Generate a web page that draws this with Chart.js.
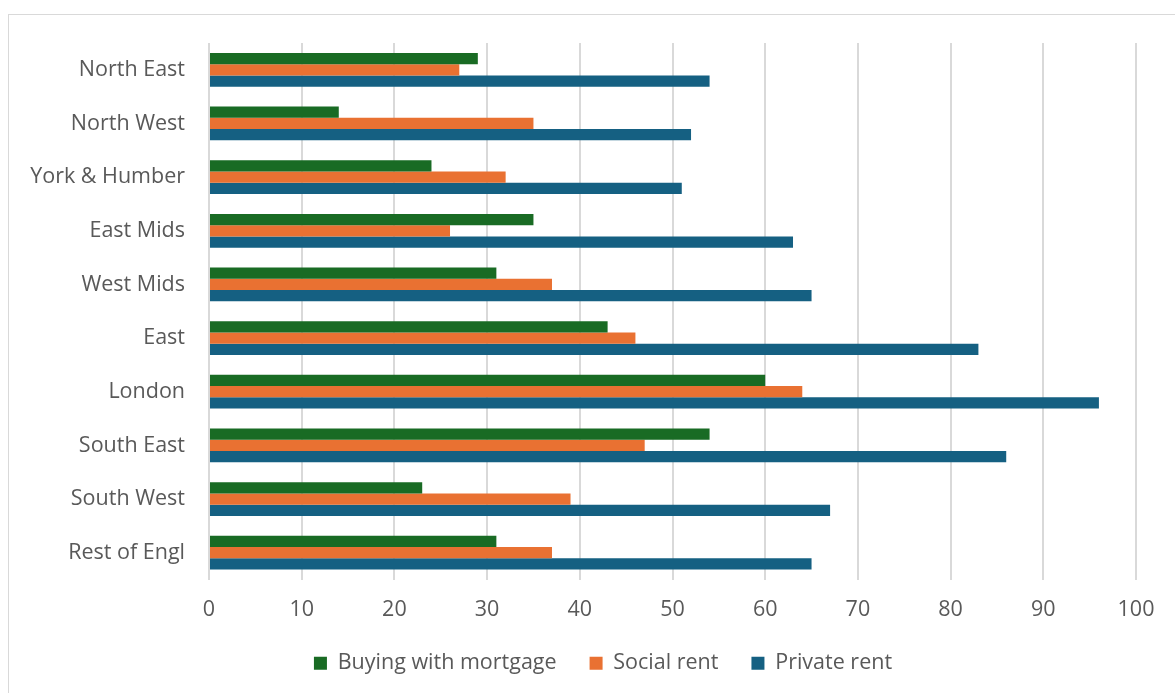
<!DOCTYPE html>
<html>
<head>
<meta charset="utf-8">
<title>Housing by region</title>
<script src="https://cdn.jsdelivr.net/npm/chart.js@4/dist/chart.umd.min.js"></script>
<style>
    html, body { margin: 0; padding: 0; background: #fff; }
    body { width: 1175px; height: 693px; position: relative; overflow: hidden; }
    #frame {
        position: absolute; left: 8px; top: 14px;
        width: 1300px; height: 800px;
        border-top: 1px solid #d9d9d9; border-left: 1px solid #d9d9d9;
    }
    #wrap { position: absolute; left: 0; top: 0; width: 1175px; height: 693px; }
</style>
</head>
<body>
<div id="frame"></div>
<div id="wrap"><canvas id="chart"></canvas></div>
<script>
// Regiones y valores por tipo de tenencia
const regions = ['North East', 'North West', 'York & Humber', 'East Mids', 'West Mids',
    'East', 'London', 'South East', 'South West', 'Rest of Engl'];
const mortgage = [29, 14, 24, 35, 31, 43, 60, 54, 23, 31];
const socialRent = [27, 35, 32, 26, 37, 46, 64, 47, 39, 37];
const privateRent = [54, 52, 51, 63, 65, 83, 96, 86, 67, 65];
const xTicks = [0, 10, 20, 30, 40, 50, 60, 70, 80, 90, 100];

const textColor = '#595959';
const fontFamily = '"Open Sans", "Noto Sans", sans-serif';
const fontSize = 21.5;

// Desplazar la leyenda para centrarla bajo el área de barras
const legendShift = {
    id: 'legendShift',
    afterLayout(chart) {
        const shift = 35;
        chart.legend.left += shift;
        chart.legend.right += shift;
    }
};

const ctx = document.getElementById('chart').getContext('2d');

new Chart(ctx, {
    type: 'bar',
    data: {
        labels: regions,
        datasets: [
            { label: 'Buying with mortgage', data: mortgage, backgroundColor: '#196B24' },
            { label: 'Social rent', data: socialRent, backgroundColor: '#E97132' },
            { label: 'Private rent', data: privateRent, backgroundColor: '#156082' }
        ]
    },
    plugins: [legendShift],
    options: {
        indexAxis: 'y',
        responsive: true,
        maintainAspectRatio: false,
        animation: false,
        categoryPercentage: 0.63,
        barPercentage: 1,
        layout: {
            padding: { top: 43, right: 39, bottom: 9, left: 0 }
        },
        scales: {
            x: {
                min: 0,
                max: 100,
                afterBuildTicks: (scale) => {
                    scale.ticks = xTicks.map(v => ({ value: v }));
                },
                afterFit: (scale) => { scale.height = 40; },
                grid: { color: '#d9d9d9', lineWidth: 2, drawTicks: false },
                border: { display: false },
                ticks: {
                    padding: 17,
                    color: textColor,
                    font: { family: fontFamily, size: fontSize }
                }
            },
            y: {
                afterFit: (scale) => { scale.width = 209; },
                grid: { display: false },
                border: { display: false },
                ticks: {
                    padding: 16,
                    color: textColor,
                    font: { family: fontFamily, size: fontSize }
                }
            }
        },
        plugins: {
            legend: {
                display: true,
                position: 'bottom',
                labels: {
                    boxWidth: 13,
                    boxHeight: 13,
                    padding: 33,
                    color: textColor,
                    font: { family: fontFamily, size: fontSize }
                }
            },
            tooltip: { enabled: false }
        }
    }
});
</script>
</body>
</html>
